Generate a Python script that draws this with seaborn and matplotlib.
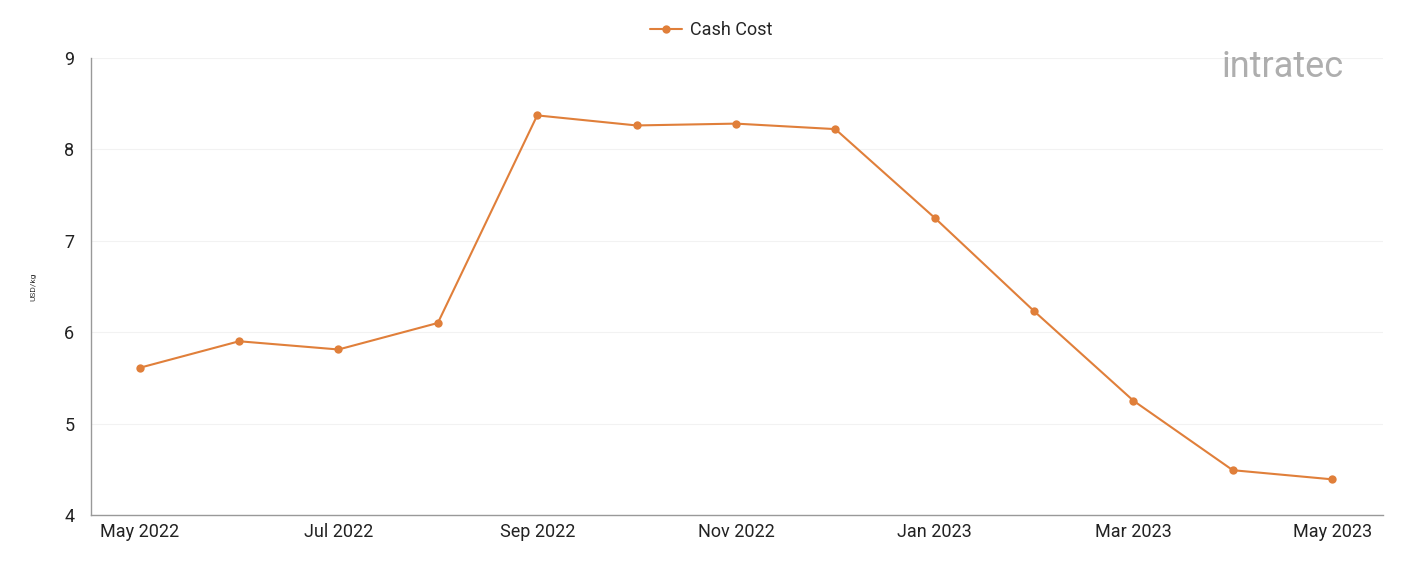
import numpy as np
import pandas as pd
import matplotlib
matplotlib.use('Agg')
import matplotlib.pyplot as plt
import seaborn as sns

# monthly values
months = ['May 2022', 'Jun 2022', 'Jul 2022', 'Aug 2022', 'Sep 2022', 'Oct 2022', 'Nov 2022',
          'Dec 2022', 'Jan 2023', 'Feb 2023', 'Mar 2023', 'Apr 2023', 'May 2023']
cash_cost = [5.61, 5.90, 5.81, 6.10, 8.37, 8.26, 8.28, 8.22, 7.25, 6.23, 5.25, 4.49, 4.39]

data = pd.DataFrame({'idx': range(len(months)), 'month': months, 'Cash Cost': cash_cost})

sns.set_style('white')
plt.rcParams['font.family'] = ['Roboto', 'DejaVu Sans']

fig = plt.figure(figsize=(14.01, 5.61), dpi=100)
ax = fig.add_axes([0.065, 0.082, 0.922, 0.815])

orange = '#E07F3A'
sns.lineplot(data=data, x='idx', y='Cash Cost', ax=ax, color=orange, linewidth=1.5,
             marker='o', markersize=6, markeredgewidth=0, label='Cash Cost')

ax.set_ylim(4, 9)
ax.set_yticks([4, 5, 6, 7, 8, 9])
ax.set_xlim(-0.49, 12.51)
ax.set_xticks(data['idx'][::2])
ax.set_xticklabels(data['month'][::2])
ax.tick_params(axis='both', labelsize=13, length=0, colors='#222222')
ax.tick_params(axis='x', pad=6)
ax.tick_params(axis='y', pad=12)

ax.grid(axis='y', color='#f2f2f2', linewidth=0.8)
for s in ['top', 'right']:
    ax.spines[s].set_visible(False)
for s in ['left', 'bottom']:
    ax.spines[s].set_color('#999999')
    ax.spines[s].set_linewidth(1)

ax.set_xlabel('')
ax.set_ylabel('USD/kg', fontsize=6, labelpad=20, color='#333333')

ax.legend(loc='upper center', bbox_to_anchor=(0.48, 1.115), frameon=False, fontsize=13,
          handlelength=1.8, handletextpad=0.4)

# watermark
fig.text(0.872, 0.88, 'intratec', fontsize=26, color='#8c8c8c', alpha=0.7,
         ha='left', va='center')

fig.savefig('out.png', dpi=100)
